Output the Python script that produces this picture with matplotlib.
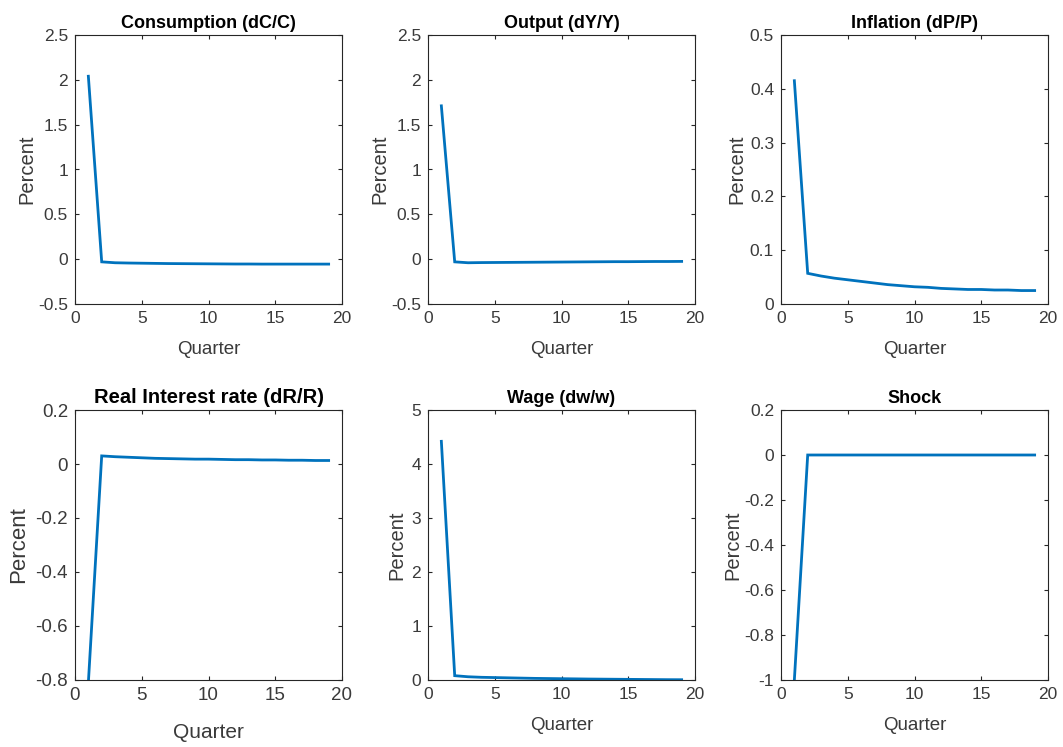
import matplotlib
matplotlib.use("Agg")
import matplotlib.pyplot as plt
import numpy as np

plt.rcParams['font.family'] = ['Liberation Sans', 'DejaVu Sans']

quarters = list(range(1, 20))

consumption = [2.04, -0.03, -0.04, -0.043, -0.045, -0.047, -0.049, -0.05, -0.051, -0.052,
               -0.053, -0.054, -0.054, -0.055, -0.055, -0.055, -0.055, -0.055, -0.055]
output = [1.71, -0.03, -0.04, -0.038, -0.037, -0.036, -0.035, -0.034, -0.033, -0.032,
          -0.031, -0.03, -0.029, -0.028, -0.028, -0.027, -0.026, -0.026, -0.025]
inflation = [0.415, 0.057, 0.052, 0.048, 0.045, 0.042, 0.039, 0.036, 0.034, 0.032,
             0.031, 0.029, 0.028, 0.027, 0.027, 0.026, 0.026, 0.025, 0.025]
real_rate = [-0.81, 0.03, 0.027, 0.025, 0.023, 0.021, 0.02, 0.019, 0.018, 0.018,
             0.017, 0.016, 0.016, 0.015, 0.015, 0.014, 0.014, 0.013, 0.013]
wage = [4.42, 0.08, 0.06, 0.05, 0.045, 0.04, 0.035, 0.03, 0.027, 0.024,
        0.021, 0.018, 0.016, 0.014, 0.012, 0.01, 0.008, 0.006, 0.005]
shock = [-1.0] + [0.0] * 18

titles = ["Consumption (dC/C)", "Output (dY/Y)", "Inflation (dP/P)",
          "Real Interest rate (dR/R)", "Wage (dw/w)", "Shock"]
series = [consumption, output, inflation, real_rate, wage, shock]
ylims = [(-0.5, 2.5), (-0.5, 2.5), (0, 0.5), (-0.8, 0.2), (0, 5), (-1, 0.2)]
yticks = [np.arange(-0.5, 2.51, 0.5), np.arange(-0.5, 2.51, 0.5), np.arange(0, 0.51, 0.1),
          np.arange(-0.8, 0.21, 0.2), np.arange(0, 5.1, 1), np.arange(-1, 0.21, 0.2)]
ytick_labels = [["-0.5", "0", "0.5", "1", "1.5", "2", "2.5"],
                ["-0.5", "0", "0.5", "1", "1.5", "2", "2.5"],
                ["0", "0.1", "0.2", "0.3", "0.4", "0.5"],
                ["-0.8", "-0.6", "-0.4", "-0.2", "0", "0.2"],
                ["0", "1", "2", "3", "4", "5"],
                ["-1", "-0.8", "-0.6", "-0.4", "-0.2", "0", "0.2"]]
xticks = [0, 5, 10, 15, 20]

W, H = 1063, 747
fig = plt.figure(figsize=(W / 100, H / 100), dpi=100)

lefts = [75, 428, 781]
boxes = []
for r, (top, bot) in enumerate([(35, 304), (410, 680)]):
    for c in range(3):
        boxes.append((lefts[c] / W, 1 - bot / H, 267 / W, (bot - top) / H))

ylab_x = [-0.18, -0.18, -0.165, -0.21, -0.116, -0.18]
xlab_y = [-0.171, -0.171, -0.171, -0.193, -0.167, -0.167]

axcol = '#262626'
tickcol = '#3a3a3a'
for i in range(6):
    ax = fig.add_axes(boxes[i])
    big = (i == 3)
    tsize = 13.5 if big else 12.5
    ax.plot(quarters, series[i], color='#0072BD', lw=2.0, solid_joinstyle='miter', clip_on=True)
    ax.set_xlim(0, 20)
    ax.set_ylim(*ylims[i])
    ax.set_xticks(xticks)
    ax.set_xticklabels([str(v) for v in xticks])
    ax.set_yticks(yticks[i])
    ax.set_yticklabels(ytick_labels[i])
    ax.tick_params(direction='in', length=3, width=0.8, top=True, right=True,
                   labelsize=tsize, colors=axcol, labelcolor=tickcol, pad=5)
    for s in ax.spines.values():
        s.set_color(axcol)
        s.set_linewidth(0.8)
    ax.set_title(titles[i], fontsize=14.5 if big else 13, fontweight='bold', pad=5, color='black')
    ax.set_ylabel("Percent", fontsize=16 if big else 14.5, color=tickcol, va='center')
    ax.yaxis.set_label_coords(ylab_x[i], 0.5)
    ax.set_xlabel("Quarter", fontsize=15 if big else 13.5, color=tickcol, va='center')
    ax.xaxis.set_label_coords(0.5, xlab_y[i])

fig.savefig("out.png", dpi=100, facecolor='white')
